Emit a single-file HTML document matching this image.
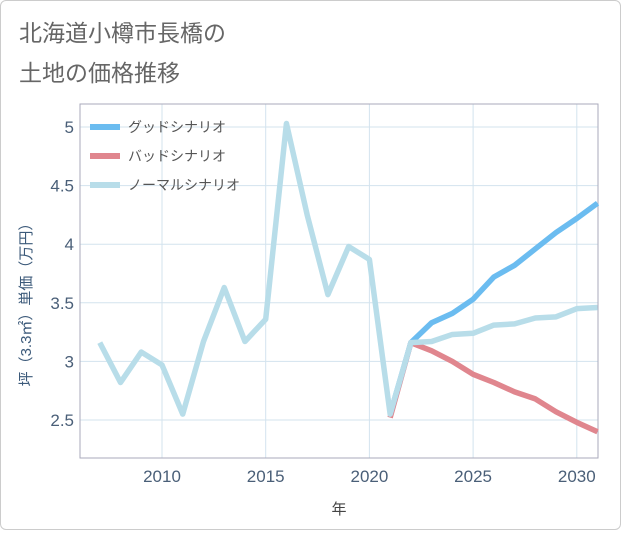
<!DOCTYPE html>
<html><head><meta charset="utf-8"><style>
body{margin:0;background:#fff;}
#card{position:absolute;left:0;top:0;width:619px;height:528px;border:1px solid #ccc;border-radius:6px;background:#fff;}
svg text{font-family:"Liberation Sans","Noto Sans CJK JP",sans-serif;}
</style></head><body>
<div id="card">
<svg id="chart" width="621" height="530">
<text x="18" y="40" font-size="23" fill="#666">北海道小樽市長橋の</text>
<text x="18" y="80" font-size="23" fill="#666">土地の価格推移</text>
<g id="grid"></g>
<rect x="79" y="103" width="518" height="354" fill="none" stroke="#aab" stroke-width="1"/>
<g id="lines"></g>
<g id="ticks"></g>
<text x="338" y="513" font-size="15" fill="#444" text-anchor="middle">年</text>
<text transform="translate(30,300) rotate(-90)" font-size="15" fill="#3c5a7a" text-anchor="middle">坪（3.3㎡）単価（万円）</text>
<g id="legend"></g>
</svg></div>
<script>
const years=[2007,2008,2009,2010,2011,2012,2013,2014,2015,2016,2017,2018,2019,2020,2021,2022,2023,2024,2025,2026,2027,2028,2029,2030,2031];
const normalVals=[3.16,2.82,3.08,2.97,2.55,3.17,3.63,3.17,3.36,5.03,4.25,3.57,3.98,3.87,2.55,3.16,3.17,3.23,3.24,3.31,3.32,3.37,3.38,3.45,3.46];
const futureYears=[2021,2022,2023,2024,2025,2026,2027,2028,2029,2030,2031];
const goodVals=[2.55,3.16,3.33,3.41,3.53,3.72,3.82,3.96,4.10,4.22,4.35];
const badVals=[2.52,3.16,3.09,3.00,2.89,2.82,2.74,2.68,2.57,2.48,2.40];
const xTicks=[2010,2015,2020,2025,2030];
const yTicks=[2.5,3,3.5,4,4.5,5];
const legendLabels=["グッドシナリオ","バッドシナリオ","ノーマルシナリオ"];
const colors=["#6bbcf0","#e0868e","#b8dde9"];
const NS="http://www.w3.org/2000/svg";
const X=y=>161+(y-2010)*20.74;
const Y=v=>419-(v-2.5)*117.2;
function mk(tag,attrs,parent){const e=document.createElementNS(NS,tag);for(const k in attrs)e.setAttribute(k,attrs[k]);document.getElementById(parent).appendChild(e);return e;}
xTicks.forEach(t=>{
 const l=mk('line',{x1:X(t),x2:X(t),y1:103,y2:457,stroke:'#d3e3ee','stroke-width':1},'grid');
 
 
 const tx=mk('text',{x:X(t),y:481,'font-size':17,fill:'#4a5f78','text-anchor':'middle'},'ticks');
 tx.textContent=t;
 
 
});
yTicks.forEach(t=>{
 const l=mk('line',{x1:79,x2:597,y1:Y(t),y2:Y(t),stroke:'#d3e3ee','stroke-width':1},'grid');
 
 
 const tx=mk('text',{x:73,y:Y(t)+6,'font-size':17,fill:'#4a5f78','text-anchor':'end'},'ticks');
 tx.textContent=t;
 
 
});
function line(xs,vs,c,name){
 const p=mk('polyline',{points:xs.map((y,i)=>X(y)+','+Y(vs[i])).join(' '),fill:'none',stroke:c,'stroke-width':5.5,'stroke-linejoin':'round'},'lines');
 
 
}
line(futureYears,badVals,colors[1],'bad-scenario-line');
line(futureYears,goodVals,colors[0],'good-scenario-line');
line(years,normalVals,colors[2],'normal-scenario-line');
legendLabels.forEach((lab,i)=>{
 const y=126+i*29;
 const r=mk('rect',{x:89,y:y-3,width:30,height:6,fill:colors[i]},'legend');
 
 
 const t=mk('text',{x:127,y:y+5,'font-size':14,fill:'#555'},'legend');
 t.textContent=lab;
 
 
});
</script>
</body></html>
